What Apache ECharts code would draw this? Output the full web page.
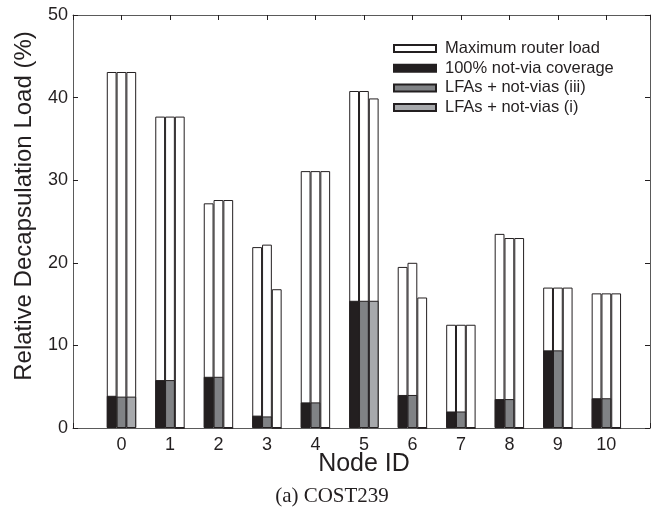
<!DOCTYPE html>
<html>
<head>
<meta charset="utf-8">
<style>
  html, body { margin: 0; padding: 0; background: #fff; }
  #chart { width: 662px; height: 510px; }
</style>
<script src="https://cdn.jsdelivr.net/npm/echarts@6/dist/echarts.min.js"></script>
</head>
<body>
<div id="chart"></div>
<script>
// Node IDs
const nodeIds = [0, 1, 2, 3, 4, 5, 6, 7, 8, 9, 10];

// Maximum router load (%) for each of the three schemes
const maxLoad100 = [43.1, 37.7, 27.2, 21.9, 31.1, 40.8, 19.5, 12.5, 23.5, 17.0, 16.3];
const maxLoadIii = [43.1, 37.7, 27.6, 22.2, 31.1, 40.8, 20.0, 12.5, 23.0, 17.0, 16.3];
const maxLoadI   = [43.1, 37.7, 27.6, 16.8, 31.1, 39.9, 15.8, 12.5, 23.0, 17.0, 16.3];

// Relative decapsulation load (%)
const load100 = [3.9, 5.8, 6.2, 1.5, 3.1, 15.4, 4.0, 2.0, 3.5, 9.4, 3.6];
const loadIii = [3.8, 5.8, 6.2, 1.4, 3.1, 15.4, 4.0, 2.0, 3.5, 9.4, 3.6];
const loadI   = [3.8, 0,   0,   0,   0,   15.4, 0,   0,   0,   0,   0];

const yTicks = [0, 10, 20, 30, 40, 50];

const NAME_MAX = 'Maximum router load';
const NAME_100 = '100% not-via coverage';
const NAME_III = 'LFAs + not-vias (iii)';
const NAME_I = 'LFAs + not-vias (i)';

const SANS = '"Liberation Sans", Arial, Helvetica, sans-serif';
const INK = '#231f20';
const AXIS = '#5a5a5a';
const BAR_W = 9.8;

function pairs(vals) {
  return nodeIds.map((id, i) => [id, vals[i]]);
}

function barSeries(name, vals, color, axisIdx) {
  return {
    type: 'bar',
    name: name,
    xAxisIndex: axisIdx,
    yAxisIndex: 0,
    barWidth: BAR_W,
    barGap: '0%',
    data: pairs(vals),
    itemStyle: { color: color, borderColor: INK, borderWidth: 1 },
    emphasis: { disabled: true },
    animation: false
  };
}

const xCommon = {
  type: 'value',
  min: -1,
  max: 10.9,
  interval: 1,
  splitLine: { show: false }
};

const chart = echarts.init(document.getElementById('chart'), null, { renderer: 'canvas' });

chart.setOption({
  backgroundColor: '#fff',
  animation: false,
  grid: { left: 73, right: 12, top: 15, bottom: 82, containLabel: false },
  legend: {
    data: [NAME_MAX, NAME_100, NAME_III, NAME_I],
    orient: 'vertical',
    left: 393,
    top: 40,
    padding: 0,
    itemWidth: 42,
    itemHeight: 7,
    itemGap: 2.7,
    selectedMode: false,
    icon: 'rect',
    textStyle: { fontFamily: SANS, fontSize: 16.5, color: INK, lineHeight: 16, padding: [0, 0, 0, 4] }
  },
  xAxis: [
    Object.assign({}, xCommon, {
      position: 'bottom',
      axisLine: { show: true, onZero: false, lineStyle: { color: AXIS, width: 1 } },
      axisTick: { show: true, inside: true, length: 5, lineStyle: { color: INK } },
      axisLabel: {
        show: true, margin: 8, fontFamily: SANS, fontSize: 18, color: INK,
        formatter: v => (v >= 0 && v <= 10 && Number.isInteger(v)) ? String(v) : ''
      }
    }),
    Object.assign({}, xCommon, {
      position: 'bottom',
      axisLine: { show: false },
      axisTick: { show: false },
      axisLabel: { show: false }
    }),
    Object.assign({}, xCommon, {
      position: 'top',
      axisLine: { show: true, onZero: false, lineStyle: { color: AXIS, width: 1 } },
      axisTick: { show: true, inside: true, length: 5, lineStyle: { color: INK } },
      axisLabel: { show: false }
    })
  ],
  yAxis: [
    {
      type: 'value',
      min: yTicks[0],
      max: yTicks[yTicks.length - 1],
      interval: 10,
      position: 'left',
      splitLine: { show: false },
      axisLine: { show: true, onZero: false, lineStyle: { color: AXIS, width: 1 } },
      axisTick: { show: true, inside: true, length: 5, lineStyle: { color: INK } },
      axisLabel: { margin: 5, fontFamily: SANS, fontSize: 18, color: INK }
    },
    {
      type: 'value',
      min: yTicks[0],
      max: yTicks[yTicks.length - 1],
      interval: 10,
      position: 'right',
      splitLine: { show: false },
      axisLine: { show: true, onZero: false, lineStyle: { color: AXIS, width: 1 } },
      axisTick: { show: true, inside: true, length: 5, lineStyle: { color: INK } },
      axisLabel: { show: false }
    }
  ],
  series: [
    // full-height outline bars (maximum router load)
    barSeries(NAME_MAX, maxLoad100, '#ffffff', 0),
    barSeries(NAME_MAX, maxLoadIii, '#ffffff', 0),
    barSeries(NAME_MAX, maxLoadI, '#ffffff', 0),
    // filled bars for the actual decapsulation load
    barSeries(NAME_100, load100, INK, 1),
    barSeries(NAME_III, loadIii, '#808285', 1),
    barSeries(NAME_I, loadI, '#a7a9ac', 1)
  ],
  graphic: [
    {
      type: 'text',
      x: 24, y: 206,
      rotation: Math.PI / 2,
      style: {
        text: 'Relative Decapsulation Load (%)',
        font: '24px ' + SANS,
        fill: INK,
        align: 'center',
        verticalAlign: 'middle'
      }
    },
    {
      type: 'text',
      x: 364, y: 464,
      style: {
        text: 'Node ID',
        font: '25px ' + SANS,
        fill: INK,
        align: 'center',
        verticalAlign: 'middle'
      }
    },
    {
      type: 'text',
      x: 332, y: 496,
      style: {
        text: '(a) COST239',
        font: '21px "Liberation Serif", "Times New Roman", serif',
        fill: INK,
        align: 'center',
        verticalAlign: 'middle'
      }
    }
  ]
});
</script>
</body>
</html>
